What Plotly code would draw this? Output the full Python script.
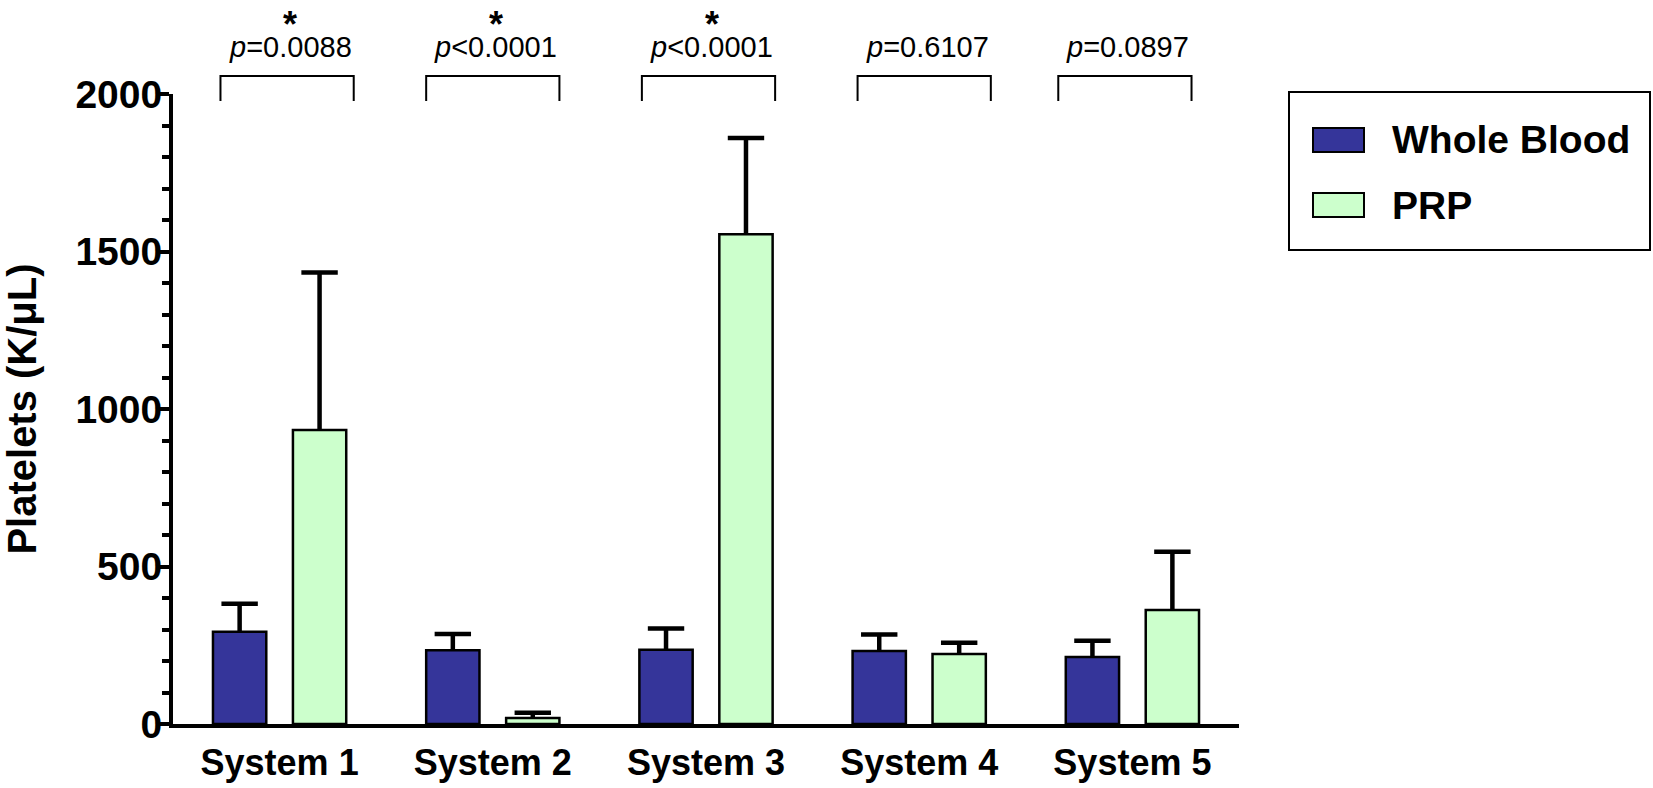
import plotly.graph_objects as go

# ---------------- data ----------------
categories = ["System 1", "System 2", "System 3", "System 4", "System 5"]
whole_blood = [293, 234, 236, 232, 213]
whole_blood_err = [89, 52, 67, 52, 51]
prp = [933, 19, 1555, 222, 362]
prp_err = [500, 17, 305, 36, 185]
p_labels = ["<i>p</i>=0.0088", "<i>p</i>&lt;0.0001", "<i>p</i>&lt;0.0001",
            "<i>p</i>=0.6107", "<i>p</i>=0.0897"]
significant = [True, True, True, False, False]
y_ticks = [0, 500, 1000, 1500, 2000]

# ---------------- layout geometry ----------------
W, H = 1653, 788
L, R, T, B = 173, 1239, 94, 724          # plot area in pixels
FONT = "Arial, Liberation Sans, sans-serif"
WB_COLOR = "#35359A"
PRP_COLOR = "#CCFFCC"

n = len(categories)
idx = list(range(n))
BAR_W = 0.25
WB_OFF, PRP_OFF = -0.3125, 0.0625


def px(x):   # pixel -> paper
    return (x - L) / (R - L)


def py(y):
    return (B - y) / (B - T)


def cat_paper(i, off=0.0):
    return (i + 0.5 + off) / n


fig = go.Figure()
for vals, errs, color, name, off in [
    (whole_blood, whole_blood_err, WB_COLOR, "Whole Blood", WB_OFF),
    (prp, prp_err, PRP_COLOR, "PRP", PRP_OFF),
]:
    fig.add_trace(go.Bar(
        x=idx, y=vals, name=name, width=BAR_W, offset=off,
        marker=dict(color=color, line=dict(color="black", width=2.5)),
        error_y=dict(type="data", symmetric=False, array=errs,
                     arrayminus=[0] * n, color="black", thickness=4.5, width=0),
        showlegend=False,
    ))
    # error-bar caps
    fig.add_trace(go.Scatter(
        x=[i + off + BAR_W / 2 for i in idx],
        y=[v + e for v, e in zip(vals, errs)],
        mode="markers", showlegend=False, hoverinfo="skip", cliponaxis=False,
        marker=dict(symbol="line-ew", size=26, color="black",
                    line=dict(color="black", width=4.5)),
    ))

shapes = []
annotations = []
bracket_shift = [7.5, 0, 2.5, 5, -7.5]  # pixel nudges of the brackets
half = 0.3125
cat_px = (R - L) / n
for i in range(n):
    s = bracket_shift[i] / cat_px
    x0 = cat_paper(i, -half + s)
    x1 = cat_paper(i, half + s)
    yb, yt = py(101), py(76)
    shapes.append(dict(type="path", xref="paper", yref="paper",
                       path=f"M {x0} {yb} L {x0} {yt} L {x1} {yt} L {x1} {yb}",
                       line=dict(color="black", width=2)))
    xc = cat_paper(i, s) + 3 / (R - L)
    annotations.append(dict(xref="paper", yref="paper", x=xc, y=py(47),
                            text=p_labels[i], showarrow=False,
                            xanchor="center", yanchor="middle",
                            font=dict(family=FONT, size=29, color="black")))
    if significant[i]:
        annotations.append(dict(xref="paper", yref="paper", x=xc, y=py(25),
                                text="*", showarrow=False,
                                xanchor="center", yanchor="middle",
                                font=dict(family=FONT, size=36, color="black",
                                          weight="bold")))

# custom legend
shapes.append(dict(type="rect", xref="paper", yref="paper",
                   x0=px(1289), x1=px(1650), y0=py(250), y1=py(92),
                   line=dict(color="black", width=2), fillcolor="white"))
for name, color, yc in [("Whole Blood", WB_COLOR, 140), ("PRP", PRP_COLOR, 205)]:
    shapes.append(dict(type="rect", xref="paper", yref="paper",
                       x0=px(1313), x1=px(1364), y0=py(yc + 12), y1=py(yc - 12),
                       line=dict(color="black", width=2), fillcolor=color))
    annotations.append(dict(xref="paper", yref="paper", x=px(1390), y=py(yc),
                            text=name, showarrow=False, xanchor="left",
                            yanchor="middle",
                            font=dict(family=FONT, size=39, color="black",
                                      weight="bold")))

fig.update_layout(
    width=W, height=H,
    margin=dict(l=L, r=W - R, t=T, b=H - B, pad=0, autoexpand=False),
    plot_bgcolor="white", paper_bgcolor="white",
    barmode="overlay",
    shapes=shapes, annotations=annotations,
    font=dict(family=FONT, color="black"),
)
fig.update_xaxes(
    range=[-0.5, n - 0.5], tickvals=idx, ticktext=categories,
    showline=True, linewidth=4, linecolor="black", automargin=False,
    ticks="", showgrid=False, zeroline=False, ticklabelstandoff=4,
    tickfont=dict(family=FONT, size=36, color="black", weight="bold"),
)
fig.update_yaxes(
    range=[0, 2000], tickvals=y_ticks, automargin=False,
    showline=True, linewidth=4, linecolor="black",
    ticks="outside", ticklen=13, tickwidth=4, tickcolor="black",
    minor=dict(dtick=100, ticks="outside", ticklen=7, tickwidth=4, tickcolor="black"),
    showgrid=False, zeroline=False, ticklabelstandoff=-14,
    tickfont=dict(family=FONT, size=39, color="black", weight="bold"),
    title=dict(text="Platelets (K/μL)", standoff=35,
               font=dict(family=FONT, size=40, color="black", weight="bold")),
)

fig.write_html("out.html", config={"displayModeBar": False},
               post_script="document.body.style.margin='0';")
